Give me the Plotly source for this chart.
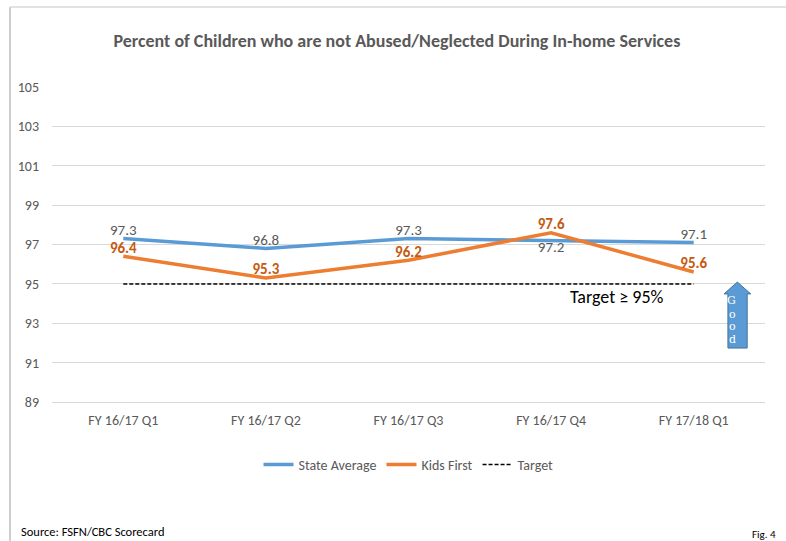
import plotly.graph_objects as go

# Quarterly reporting periods
quarters = ["FY 16/17 Q1", "FY 16/17 Q2", "FY 16/17 Q3", "FY 16/17 Q4", "FY 17/18 Q1"]

# Percent of children not abused/neglected during in-home services
state_average = [97.3, 96.8, 97.3, 97.2, 97.1]
kids_first = [96.4, 95.3, 96.2, 97.6, 95.6]
target = [95, 95, 95, 95, 95]

y_ticks = [89, 91, 93, 95, 97, 99, 101, 103, 105]

FONT = "Calibri, Carlito, Lato, sans-serif"
GRAY = "#595959"
BLUE = "#5B9BD5"
ORANGE = "#ED7D31"
ORANGE_TEXT = "#C55A11"

state_text_pos = ["top center", "top center", "top center", "bottom center", "top center"]

fig = go.Figure()

fig.add_trace(go.Scatter(
    x=quarters, y=state_average, name="State Average",
    mode="lines+text",
    line=dict(color=BLUE, width=3.5),
    text=[f"{v:.1f}" for v in state_average],
    textposition=state_text_pos,
    textfont=dict(family=FONT, size=15, color=GRAY),
))

fig.add_trace(go.Scatter(
    x=quarters, y=kids_first, name="Kids First",
    mode="lines+text",
    line=dict(color=ORANGE, width=3.5),
    text=[f"<b>{v:.1f}</b>" for v in kids_first],
    textposition="top center",
    textfont=dict(family=FONT, size=15, color=ORANGE_TEXT),
))

fig.add_trace(go.Scatter(
    x=quarters, y=target, name="Target",
    mode="lines",
    line=dict(color="black", width=1.5, dash="4px,2px"),
))

# Target label under the dashed line
fig.add_annotation(
    x=3.46, y=94.35, xref="x", yref="y",
    text="Target \u2265 95%", showarrow=False,
    font=dict(family=FONT, size=18, color="black"),
)

# "Good" direction arrow on the right
x_l, x_r = 0.9425, 0.980
x_sl, x_sr = 0.948, 0.975
y_tip, y_head, y_bot = 95.09, 94.49, 91.74
arrow_path = (
    f"M {x_sl},{y_bot} L {x_sl},{y_head} L {x_l},{y_head} L {(x_l + x_r) / 2},{y_tip} "
    f"L {x_r},{y_head} L {x_sr},{y_head} L {x_sr},{y_bot} Z"
)
fig.add_shape(
    type="path", path=arrow_path, xref="paper", yref="y",
    fillcolor=BLUE, line=dict(color="#41719C", width=1),
)
for letter, yv in zip(["G", "o", "o", "d"], [94.18, 93.47, 92.81, 92.2]):
    fig.add_annotation(
        x=(x_sl + x_sr) / 2, y=yv, xref="paper", yref="y",
        text=letter, showarrow=False,
        font=dict(family="DejaVu Serif, serif", size=11, color="white"),
    )

# Chart frame (left and top edges)
fig.add_shape(type="line", xref="paper", yref="paper",
              x0=-0.0589, x1=-0.0589, y0=1.254, y1=-0.45,
              line=dict(color="#BFBFBF", width=1.5))
fig.add_shape(type="line", xref="paper", yref="paper",
              x0=-0.0589, x1=1.04, y0=1.254, y1=1.254,
              line=dict(color="#D9D9D9", width=1.5))

# Footer texts
fig.add_annotation(
    x=-0.046, y=-0.41, xref="paper", yref="paper", xanchor="left", yanchor="middle",
    text="Source: FSFN/CBC Scorecard", showarrow=False,
    font=dict(family=FONT, size=12.5, color="black"),
)
fig.add_annotation(
    x=1.018, y=-0.422, xref="paper", yref="paper", xanchor="right", yanchor="middle",
    text="Fig. 4", showarrow=False,
    font=dict(family=FONT, size=11, color="black"),
)

fig.update_layout(
    width=786, height=541,
    margin=dict(l=52, r=21, t=87, b=139),
    paper_bgcolor="white", plot_bgcolor="white",
    title=dict(
        text="Percent of Children who are not Abused/Neglected During In-home Services",
        x=0.505, xanchor="center", y=0.924, yanchor="middle",
        font=dict(family=FONT, size=18, color=GRAY, weight=600),
    ),
    font=dict(family=FONT, color=GRAY),
    showlegend=True,
    legend=dict(
        orientation="h", x=0.5, xanchor="center", y=-0.2, yanchor="middle",
        font=dict(family=FONT, size=14, color=GRAY),
        itemwidth=30, tracegroupgap=0,
    ),
    xaxis=dict(
        type="category", range=[-0.5, 4.5], showgrid=False, zeroline=False,
        showline=True, linecolor="#D9D9D9", linewidth=1,
        tickfont=dict(family=FONT, size=14, color=GRAY), ticks="",
        ticklabelstandoff=5,
    ),
    yaxis=dict(
        range=[89, 105], tickvals=y_ticks, showgrid=True, gridcolor="#D9D9D9",
        gridwidth=1, zeroline=False, showline=False,
        tickfont=dict(family=FONT, size=14, color=GRAY),
        ticklabelstandoff=12,
    ),
)

fig.write_html("out.html")
